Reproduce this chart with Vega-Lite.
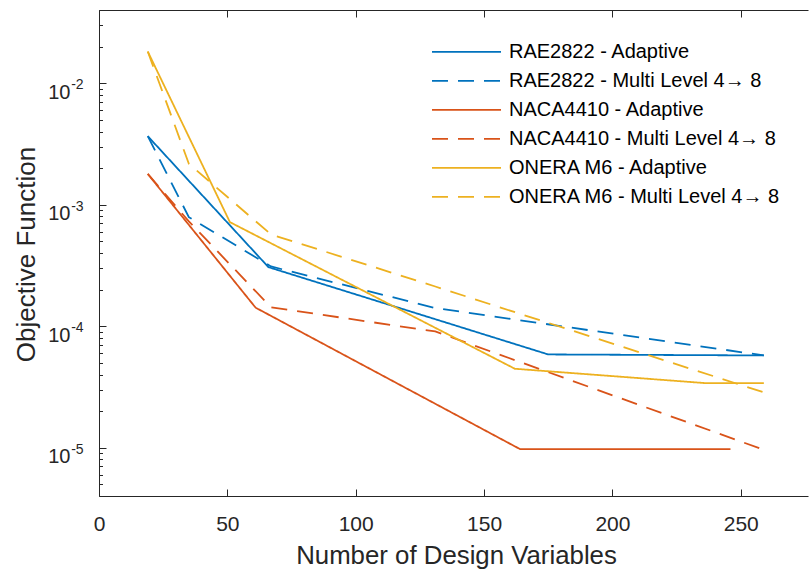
{
  "$schema": "https://vega.github.io/schema/vega-lite/v6.json",
  "width": 709,
  "height": 486,
  "autosize": "none",
  "padding": {"left": 99, "top": 10, "right": 1, "bottom": 76},
  "background": "white",
  "config": {
    "view": {"stroke": null},
    "font": "Liberation Sans",
    "axis": {
      "grid": false,
      "domainColor": "#262626",
      "domainWidth": 1,
      "tickColor": "#262626",
      "tickWidth": 1,
      "labelColor": "#262626",
      "titleColor": "#262626",
      "labelFont": "Liberation Sans",
      "titleFont": "Liberation Sans",
      "titleFontWeight": "normal",
      "labelOverlap": false,
      "labelFlush": false
    }
  },
  "data": {
    "values": [
      {"series": "RAE2822 - Adaptive", "n": 19, "obj": 0.00366},
      {"series": "RAE2822 - Adaptive", "n": 66, "obj": 0.000306},
      {"series": "RAE2822 - Adaptive", "n": 175, "obj": 0.0000585},
      {"series": "RAE2822 - Adaptive", "n": 259, "obj": 0.0000574},
      {"series": "RAE2822 - Multi Level 4→ 8", "n": 19, "obj": 0.00366},
      {"series": "RAE2822 - Multi Level 4→ 8", "n": 35, "obj": 0.000789},
      {"series": "RAE2822 - Multi Level 4→ 8", "n": 67, "obj": 0.00031},
      {"series": "RAE2822 - Multi Level 4→ 8", "n": 131, "obj": 0.000141},
      {"series": "RAE2822 - Multi Level 4→ 8", "n": 259, "obj": 0.0000574},
      {"series": "NACA4410 - Adaptive", "n": 19, "obj": 0.00179},
      {"series": "NACA4410 - Adaptive", "n": 61, "obj": 0.000142},
      {"series": "NACA4410 - Adaptive", "n": 164, "obj": 0.00000973},
      {"series": "NACA4410 - Adaptive", "n": 246, "obj": 0.00000973},
      {"series": "NACA4410 - Multi Level 4→ 8", "n": 19, "obj": 0.00179},
      {"series": "NACA4410 - Multi Level 4→ 8", "n": 35, "obj": 0.000728},
      {"series": "NACA4410 - Multi Level 4→ 8", "n": 67, "obj": 0.000143},
      {"series": "NACA4410 - Multi Level 4→ 8", "n": 131, "obj": 0.0000904},
      {"series": "NACA4410 - Multi Level 4→ 8", "n": 259, "obj": 0.0000096},
      {"series": "ONERA M6 - Adaptive", "n": 19, "obj": 0.0182},
      {"series": "ONERA M6 - Adaptive", "n": 51, "obj": 0.000718},
      {"series": "ONERA M6 - Adaptive", "n": 162, "obj": 0.0000446},
      {"series": "ONERA M6 - Adaptive", "n": 236, "obj": 0.000034},
      {"series": "ONERA M6 - Adaptive", "n": 259, "obj": 0.000034},
      {"series": "ONERA M6 - Multi Level 4→ 8", "n": 19, "obj": 0.0182},
      {"series": "ONERA M6 - Multi Level 4→ 8", "n": 35, "obj": 0.00217},
      {"series": "ONERA M6 - Multi Level 4→ 8", "n": 67, "obj": 0.000569},
      {"series": "ONERA M6 - Multi Level 4→ 8", "n": 131, "obj": 0.000212},
      {"series": "ONERA M6 - Multi Level 4→ 8", "n": 259, "obj": 0.0000285}
    ]
  },
  "layer": [
    {
      "mark": {"type": "line", "strokeWidth": 1.8},
      "encoding": {
        "x": {
          "field": "n", "type": "quantitative",
          "scale": {"domain": [0, 276.2], "nice": false, "zero": false},
          "axis": {
            "orient": "bottom",
            "values": [0, 50, 100, 150, 200, 250],
            "tickSize": -7,
            "labelPadding": 41.3,
            "labelBaseline": "alphabetic",
            "labelFontSize": 21,
            "title": "Number of Design Variables",
            "titleFontSize": 25.8,
            "titleBaseline": "alphabetic",
            "titleX": 357,
            "titleY": 67.6
          }
        },
        "y": {
          "field": "obj", "type": "quantitative",
          "scale": {"type": "log", "domain": [0.000004, 0.04], "nice": false},
          "axis": {
            "orient": "left",
            "values": [0.00001, 0.0001, 0.001, 0.01],
            "labelExpr": "'10'",
            "tickSize": -7,
            "labelPadding": 36,
            "labelBaseline": "alphabetic",
            "labelOffset": 15.3,
            "labelFontSize": 20,
            "title": "Objective Function",
            "titleFontSize": 26,
            "titleAngle": 270,
            "titleBaseline": "alphabetic",
            "titleX": -64.7,
            "titleY": 244
          }
        },
        "color": {
          "field": "series", "type": "nominal",
          "scale": {
            "domain": ["RAE2822 - Adaptive", "RAE2822 - Multi Level 4→ 8", "NACA4410 - Adaptive", "NACA4410 - Multi Level 4→ 8", "ONERA M6 - Adaptive", "ONERA M6 - Multi Level 4→ 8"],
            "range": ["#0072BD", "#0072BD", "#D95319", "#D95319", "#EDB120", "#EDB120"]
          },
          "legend": {
            "title": null, "orient": "none", "legendX": 332, "legendY": 27.5,
            "symbolType": "stroke", "symbolSize": 4761, "symbolStrokeWidth": 1.8,
            "clipHeight": 28.6, "rowPadding": 0, "padding": 0,
            "labelFontSize": 20, "labelOffset": 7, "labelLimit": 400,
            "labelColor": "#000000", "labelFont": "Liberation Sans"
          }
        },
        "strokeDash": {
          "field": "series", "type": "nominal",
          "scale": {
            "domain": ["RAE2822 - Adaptive", "RAE2822 - Multi Level 4→ 8", "NACA4410 - Adaptive", "NACA4410 - Multi Level 4→ 8", "ONERA M6 - Adaptive", "ONERA M6 - Multi Level 4→ 8"],
            "range": [[1, 0], [16, 10], [1, 0], [16, 10], [1, 0], [16, 10]]
          },
          "legend": {
            "title": null, "orient": "none", "legendX": 332, "legendY": 27.5,
            "symbolType": "stroke", "symbolSize": 4761, "symbolStrokeWidth": 1.8,
            "clipHeight": 28.6, "rowPadding": 0, "padding": 0,
            "labelFontSize": 20, "labelOffset": 7, "labelLimit": 400,
            "labelColor": "#000000", "labelFont": "Liberation Sans"
          }
        }
      }
    },
    {
      "mark": {"type": "point", "opacity": 0},
      "encoding": {
        "x": {
          "field": "n", "type": "quantitative",
          "scale": {"domain": [0, 276.2], "nice": false, "zero": false},
          "axis": {
            "orient": "top",
            "values": [0, 50, 100, 150, 200, 250],
            "labels": false,
            "tickSize": -7,
            "title": null
          }
        },
        "y": {
          "field": "obj", "type": "quantitative",
          "scale": {"type": "log", "domain": [0.000004, 0.04], "nice": false},
          "axis": {
            "orient": "left",
            "values": [0.000004, 0.000005, 0.000006, 0.000007, 0.000008, 0.000009,
                       0.00002, 0.00003, 0.00004, 0.00005, 0.00006, 0.00007, 0.00008, 0.00009,
                       0.0002, 0.0003, 0.0004, 0.0005, 0.0006, 0.0007, 0.0008, 0.0009,
                       0.002, 0.003, 0.004, 0.005, 0.006, 0.007, 0.008, 0.009,
                       0.02, 0.03, 0.04],
            "labels": false,
            "domain": false,
            "tickSize": -3.5,
            "title": null
          }
        }
      }
    },
    {
      "mark": {"type": "point", "opacity": 0},
      "encoding": {
        "x": {
          "field": "n", "type": "quantitative",
          "scale": {"domain": [0, 276.2], "nice": false, "zero": false},
          "axis": null
        },
        "y": {
          "field": "obj", "type": "quantitative",
          "scale": {"type": "log", "domain": [0.000004, 0.04], "nice": false},
          "axis": {
            "orient": "left",
            "values": [0.00001, 0.0001, 0.001, 0.01],
            "labelExpr": "'-' + round(-log(datum.value) / LN10)",
            "ticks": false,
            "domain": false,
            "labelAlign": "left",
            "labelPadding": 28.3,
            "labelBaseline": "alphabetic",
            "labelOffset": 5.6,
            "labelFontSize": 14,
            "title": null
          }
        }
      }
    }
  ],
  "resolve": {"axis": {"x": "independent", "y": "independent"}}
}
